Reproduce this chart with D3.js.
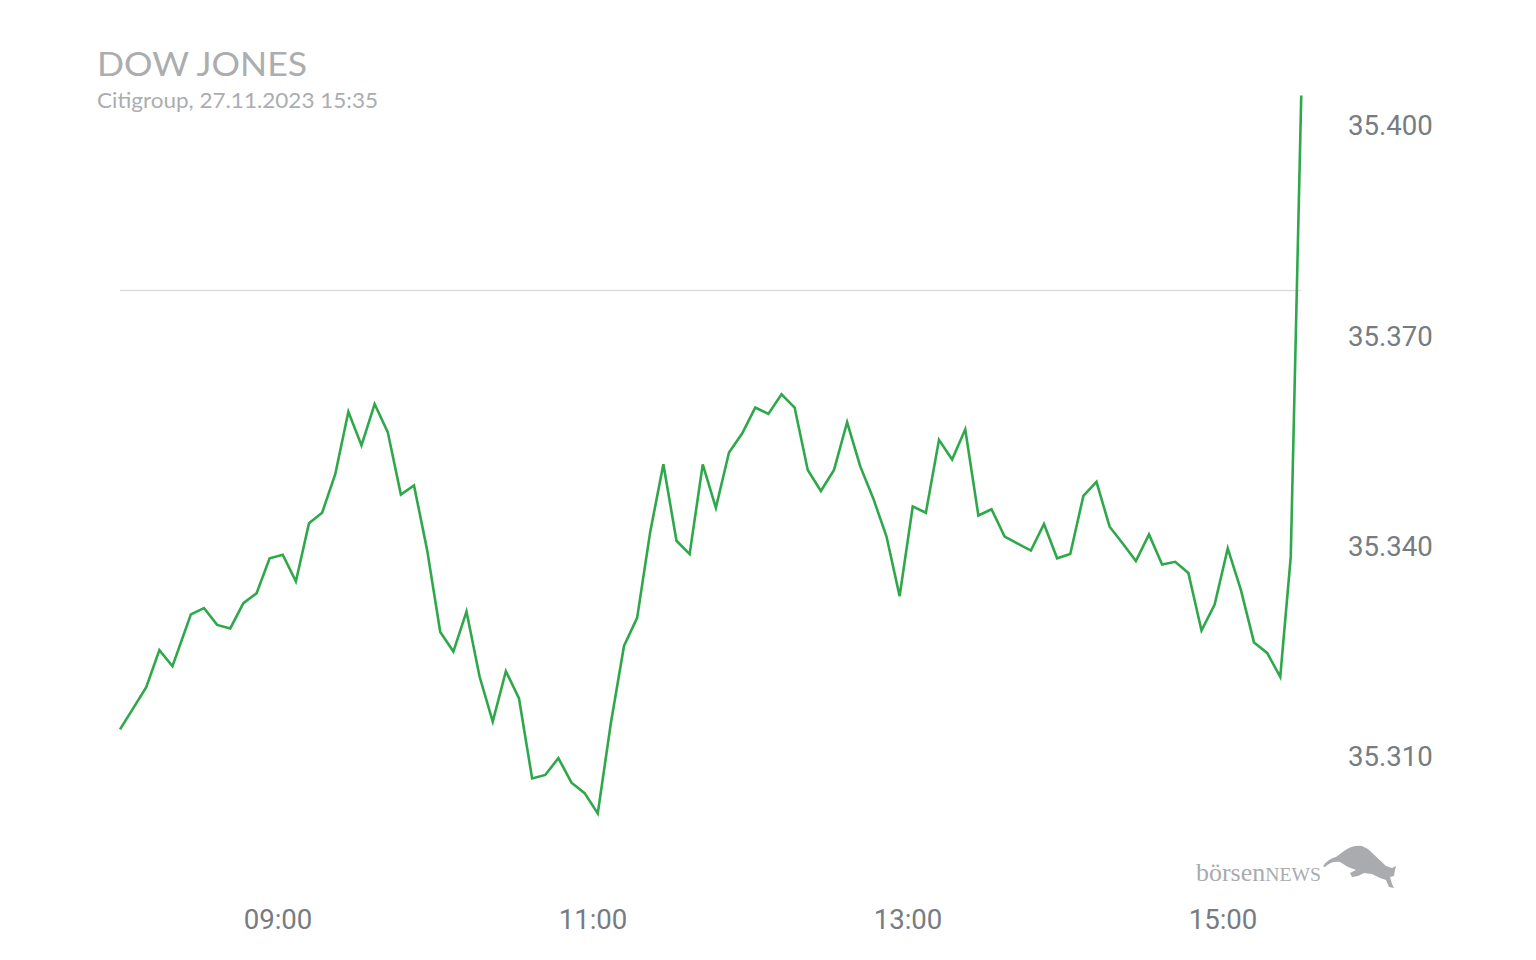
<!DOCTYPE html>
<html>
<head>
<meta charset="utf-8">
<script src="https://cdn.jsdelivr.net/npm/d3@7"></script>
<style>
  body { margin: 0; background: #fff; }
  #chart { width: 1536px; height: 960px; }
</style>
</head>
<body>
<div id="chart"></div>
<script>
// Dow Jones intraday, 27.11.2023
const times = [
  '08:00', '08:05', '08:10', '08:15', '08:20', '08:27', '08:32', '08:37', '08:42', '08:47',
  '08:52', '08:57', '09:02', '09:07', '09:12', '09:17', '09:22', '09:27', '09:32', '09:37',
  '09:42', '09:47', '09:52', '09:57', '10:02', '10:07', '10:12', '10:17', '10:22', '10:27',
  '10:32', '10:37', '10:42', '10:47', '10:52', '10:57', '11:02', '11:07', '11:12', '11:17',
  '11:22', '11:27', '11:32', '11:37', '11:42', '11:47', '11:52', '11:57', '12:02', '12:07',
  '12:12', '12:17', '12:22', '12:27', '12:32', '12:37', '12:42', '12:47', '12:52', '12:57',
  '13:02', '13:07', '13:12', '13:17', '13:22', '13:27', '13:32', '13:37', '13:42', '13:47',
  '13:52', '13:57', '14:02', '14:07', '14:12', '14:17', '14:22', '14:27', '14:32', '14:37',
  '14:42', '14:47', '14:52', '14:57', '15:02', '15:07', '15:12', '15:17', '15:22', '15:26',
  '15:30'
];
const values = [
  35313.8, 35316.8, 35319.8, 35325.1, 35322.8, 35330.2, 35331.1, 35328.7, 35328.2, 35331.8,
  35333.2, 35338.2, 35338.7, 35334.9, 35343.2, 35344.7, 35350.2, 35359.1, 35354.3, 35360.2,
  35356.2, 35347.3, 35348.6, 35339.4, 35327.7, 35324.9, 35330.6, 35321.3, 35314.9, 35322.1,
  35318.2, 35306.8, 35307.3, 35309.7, 35306.2, 35304.7, 35301.8, 35314.7, 35325.7, 35329.7,
  35342.0, 35351.6, 35340.7, 35338.8, 35351.6, 35345.4, 35353.3, 35356.0, 35359.7, 35358.8,
  35361.6, 35359.7, 35350.8, 35347.8, 35350.8, 35357.6, 35351.3, 35346.7, 35341.3, 35332.8,
  35345.6, 35344.7, 35355.1, 35352.3, 35356.6, 35344.3, 35345.2, 35341.3, 35340.3, 35339.3,
  35343.1, 35338.2, 35338.8, 35347.1, 35349.1, 35342.7, 35340.3, 35337.8, 35341.6, 35337.3,
  35337.7, 35336.1, 35327.9, 35331.6, 35339.6, 35333.7, 35326.2, 35324.7, 35321.3, 35338.4,
  35404.2
];
const prevClose = 35376.4;
const yTicks = [35310, 35340, 35370, 35400];
const xTicks = ['09:00', '11:00', '13:00', '15:00'];
const dayStart = '08:00', dayEnd = '15:30';

const width = 1536, height = 960;
const parseTime = d3.timeParse('%H:%M');
const data = times.map((t, i) => ({ t: parseTime(t), v: values[i] }));

const de = d3.formatLocale({ decimal: ',', thousands: '.', grouping: [3], currency: ['', ' €'] });
const fmt = de.format(',.0f');

const svg = d3.select('#chart').append('svg')
    .attr('width', width)
    .attr('height', height);

const x = d3.scaleTime()
    .domain([parseTime(dayStart), parseTime(dayEnd)])
    .range([120, 1301.25]);

const y = d3.scaleLinear()
    .domain([35310, 35400])
    .range([756, 125]);

// previous close line
svg.append('line')
    .attr('x1', x(parseTime(dayStart)))
    .attr('x2', x(parseTime(dayEnd)))
    .attr('y1', y(prevClose))
    .attr('y2', y(prevClose))
    .attr('stroke', '#dddddd')
    .attr('stroke-width', 1.5);

// axes
const yAxis = svg.append('g')
    .attr('transform', 'translate(1348, 1)')
    .call(d3.axisRight(y).tickValues(yTicks).tickFormat(fmt).tickSize(0).tickPadding(0));
yAxis.select('.domain').remove();
yAxis.selectAll('text')
    .attr('font-family', 'Roboto, sans-serif')
    .attr('font-size', 27.6)
    .attr('fill', '#767c82');

const xAxis = svg.append('g')
    .attr('transform', 'translate(0, 909)')
    .call(d3.axisBottom(x).tickValues(xTicks.map(parseTime)).tickFormat(d3.timeFormat('%H:%M')).tickSize(0).tickPadding(0));
xAxis.select('.domain').remove();
xAxis.selectAll('text')
    .attr('font-family', 'Roboto, sans-serif')
    .attr('font-size', 27.6)
    .attr('fill', '#767c82');

// price line
const line = d3.line()
    .x(d => x(d.t))
    .y(d => y(d.v));

svg.append('path')
    .datum(data)
    .attr('fill', 'none')
    .attr('stroke', '#2fa84b')
    .attr('stroke-width', 2.6)
    .attr('stroke-linejoin', 'miter')
    .attr('d', line);

// title
svg.append('text')
    .attr('x', 97)
    .attr('y', 76)
    .attr('font-family', 'Lato, sans-serif')
    .attr('font-size', 32)
    .attr('fill', '#abadb0')
    .attr('textLength', 210)
    .attr('lengthAdjust', 'spacingAndGlyphs')
    .text('DOW JONES');

svg.append('text')
    .attr('x', 97)
    .attr('y', 108)
    .attr('font-family', 'Lato, sans-serif')
    .attr('font-size', 21)
    .attr('fill', '#abadb0')
    .attr('textLength', 281)
    .attr('lengthAdjust', 'spacingAndGlyphs')
    .text('Citigroup, 27.11.2023 15:35');

// logo
const logo = svg.append('g').attr('fill', '#a9abae');
const logoText = logo.append('text')
    .attr('x', 1196)
    .attr('y', 881)
    .attr('font-family', '"Liberation Serif", "DejaVu Serif", serif')
    .attr('font-size', 25)
    .attr('textLength', 125)
    .attr('lengthAdjust', 'spacingAndGlyphs');
logoText.append('tspan').text('börsen');
logoText.append('tspan').attr('font-size', 19).text('NEWS');

logo.append('path')
    .attr('d', 'M1323,866 Q1328,859 1336,857 L1344,851 Q1352,845 1362,846 L1368,849 L1386,866 L1392,868 L1396,866 L1395,870 L1394,876 L1390,877 L1392,884 L1394,888 L1389,887 L1386,880 L1380,878 L1372,874 L1364,873 L1358,876 L1352,877 L1350,873 L1356,870 L1348,867 L1340,862 Q1331,861 1325,867 Z');
</script>
</body>
</html>
